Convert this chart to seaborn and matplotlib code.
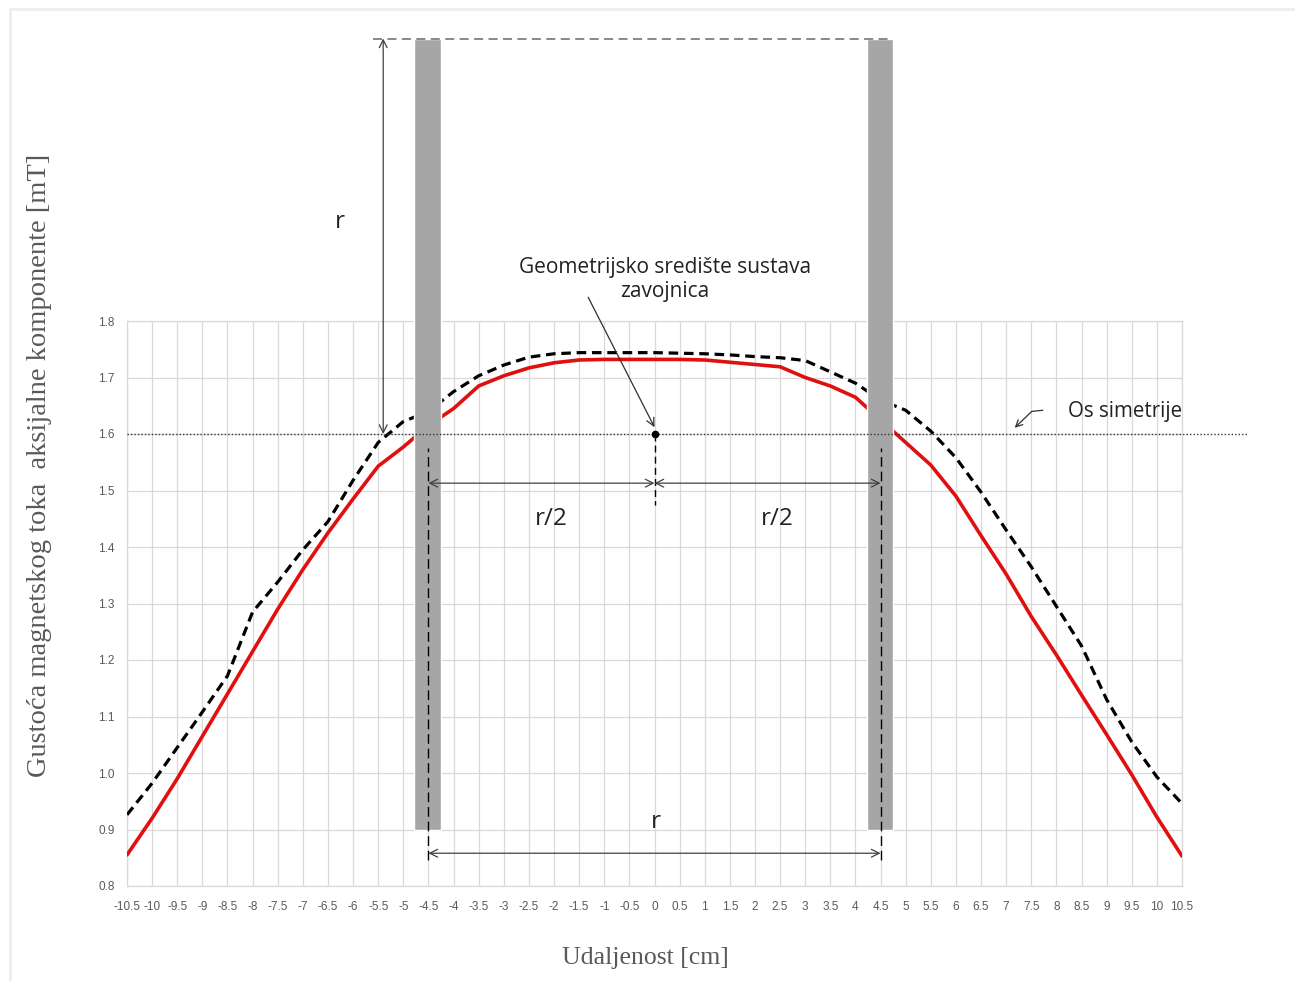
import numpy as np
import pandas as pd
import matplotlib
matplotlib.use("Agg")
import matplotlib.pyplot as plt
import seaborn as sns
from matplotlib.lines import Line2D

# ---------------- data ----------------
distance_cm = [-10.5, -10, -9.5, -9, -8.5, -8, -7.5, -7, -6.5, -6, -5.5, -5, -4.5, -4,
               -3.5, -3, -2.5, -2, -1.5, -1, -0.5, 0, 0.5, 1, 1.5, 2, 2.5, 3, 3.5, 4,
               4.5, 5, 5.5, 6, 6.5, 7, 7.5, 8, 8.5, 9, 9.5, 10, 10.5]
b_red = [0.855, 0.920, 0.990, 1.065, 1.140, 1.215, 1.290, 1.360, 1.425, 1.485, 1.543,
         1.577, 1.615, 1.645, 1.685, 1.703, 1.717, 1.726, 1.731, 1.732, 1.732, 1.732,
         1.732, 1.731, 1.727, 1.723, 1.719, 1.700, 1.685, 1.665, 1.625, 1.585, 1.545,
         1.490, 1.420, 1.352, 1.277, 1.209, 1.138, 1.068, 0.997, 0.922, 0.853]
b_black = [0.926, 0.982, 1.045, 1.108, 1.172, 1.285, 1.338, 1.395, 1.445, 1.518, 1.585,
           1.622, 1.640, 1.675, 1.703, 1.722, 1.736, 1.742, 1.744, 1.744, 1.744, 1.744,
           1.743, 1.742, 1.740, 1.737, 1.735, 1.730, 1.710, 1.690, 1.660, 1.642, 1.605,
           1.558, 1.497, 1.430, 1.365, 1.295, 1.225, 1.130, 1.055, 0.993, 0.946]
x_ticks = distance_cm
y_ticks = [0.8, 0.9, 1.0, 1.1, 1.2, 1.3, 1.4, 1.5, 1.6, 1.7, 1.8]

coil_x = [-4.52, 4.49]
coil_bottom = 0.9
coil_top = 2.3
coil_width = 0.53
sym_axis = 1.6

ylabel = "Gustoća magnetskog toka  aksijalne komponente [mT]"
xlabel = "Udaljenost [cm]"
center_label = "Geometrijsko središte sustava\nzavojnica"
axis_label = "Os simetrije"

# ---------------- style ----------------
sns.set_theme(style="whitegrid")
plt.rcParams['font.family'] = ['Open Sans', 'DejaVu Sans']

W, H = 1295, 981
fig = plt.figure(figsize=(W / 100, H / 100), dpi=100)
ax = fig.add_axes([127 / W, 95 / H, 1055 / W, 565 / H])

df = pd.DataFrame({"x": distance_cm, "red": b_red, "black": b_black})
sns.lineplot(data=df, x="x", y="red", color="#E01010", lw=2.6, ax=ax, zorder=3)
sns.lineplot(data=df, x="x", y="black", color="black", lw=2.3,
             ls=(0, (3.0, 1.8)), ax=ax, zorder=3)

ax.set_xlim(-10.5, 10.5)
ax.set_ylim(0.8, 1.8)
ax.set_xticks(x_ticks)
ax.set_xticklabels([f"{v:g}" for v in x_ticks])
ax.set_yticks(y_ticks)
ax.set_yticklabels([f"{v:.1f}" for v in y_ticks])
tick_font = ['Liberation Sans Narrow', 'Liberation Sans', 'DejaVu Sans']
for lab in ax.get_xticklabels() + ax.get_yticklabels():
    lab.set_family(tick_font)
ax.tick_params(axis='both', length=0, labelsize=8.5, labelcolor='#595959')
ax.tick_params(axis='x', pad=11)
ax.tick_params(axis='y', pad=9)
ax.grid(True, color='#D9D9D9', lw=0.9)
for s in ax.spines.values():
    s.set_color('#D9D9D9')
    s.set_linewidth(0.9)

ax.set_xlabel(xlabel, family=['Liberation Serif', 'DejaVu Serif'], fontsize=18.5,
              color='#595959')
ax.set_ylabel(ylabel, family=['Liberation Serif', 'DejaVu Serif'], fontsize=20.5,
              color='#595959')
ax.xaxis.set_label_coords((645 - 127) / 1055, -(958 - 886) / 565)
ax.xaxis.label.set_va('center')
ax.yaxis.set_label_coords((40 - 127) / 1055, (886 - 465) / 565)
ax.yaxis.label.set_va('center')

# coils (grey bars)
ax.bar(coil_x, coil_top - coil_bottom, bottom=coil_bottom, width=coil_width,
       color='#A6A6A6', zorder=4, clip_on=False)

# axis of symmetry
ax.plot([-10.5, 11.8], [sym_axis, sym_axis], ls=(0, (1, 1.5)), color='#333333',
        lw=1.0, zorder=5, clip_on=False)

# top dashed line
ax.plot([-5.6, 4.75], [coil_top, coil_top], ls=(0, (5, 3)), color='#7F7F7F',
        lw=1.3, zorder=5, clip_on=False)

# vertical dashed lines at coil centers
for xc in (-4.5, 4.5):
    ax.plot([xc, xc], [0.846, 1.575], ls=(0, (7, 3.5)), color='black', lw=1.0, zorder=5)
ax.plot([0, 0], [1.6, 1.474], ls=(0, (5, 3)), color='black', lw=1.0, zorder=5)
ax.plot([0], [1.6], 'o', ms=4.5, color='black', zorder=6)

arr = dict(arrowstyle='<->', color='#404040', lw=0.9, shrinkA=0, shrinkB=0,
           mutation_scale=14)
ax.annotate('', xy=(-5.4, coil_top), xytext=(-5.4, sym_axis), arrowprops=arr,
            annotation_clip=False, zorder=6)
ax.annotate('', xy=(-4.5, 1.513), xytext=(0, 1.513), arrowprops=arr, zorder=6)
ax.annotate('', xy=(4.5, 1.513), xytext=(0, 1.513), arrowprops=arr, zorder=6)
ax.annotate('', xy=(-4.5, 0.858), xytext=(4.5, 0.858), arrowprops=arr, zorder=6)

ax.text(-6.26, 1.975, 'r', fontsize=17.5, ha='center', va='center', color='#222222')
ax.text(-2.06, 1.45, 'r/2', fontsize=17.5, ha='center', va='center', color='#222222')
ax.text(2.44, 1.45, 'r/2', fontsize=17.5, ha='center', va='center', color='#222222')
ax.text(0.03, 0.913, 'r', fontsize=17.5, ha='center', va='center', color='#222222')

ax.text(0.21, 1.873, center_label, fontsize=15, ha='center', va='center',
        color='#222222', linespacing=1.2)
ax.annotate('', xy=(0, 1.612), xytext=(-1.32, 1.842),
            arrowprops=dict(arrowstyle='->', color='#303030', lw=0.9,
                            shrinkA=0, shrinkB=0, mutation_scale=14))

ax.text(8.23, 1.639, axis_label, fontsize=14.8, ha='left', va='center', color='#222222')
ax.plot([7.73, 7.51], [1.642, 1.640], color='#303030', lw=0.9)
ax.annotate('', xy=(7.17, 1.611), xytext=(7.51, 1.640),
            arrowprops=dict(arrowstyle='->', color='#303030', lw=0.9,
                            shrinkA=0, shrinkB=0, mutation_scale=12))

# faint outer frame
fig.add_artist(Line2D([10 / W, 10 / W], [0, 1 - 9 / H], transform=fig.transFigure,
                      color='#EEEEEE', lw=2))
fig.add_artist(Line2D([10 / W, 1], [1 - 9 / H, 1 - 9 / H], transform=fig.transFigure,
                      color='#EEEEEE', lw=2))

fig.savefig("out.png", dpi=100)
